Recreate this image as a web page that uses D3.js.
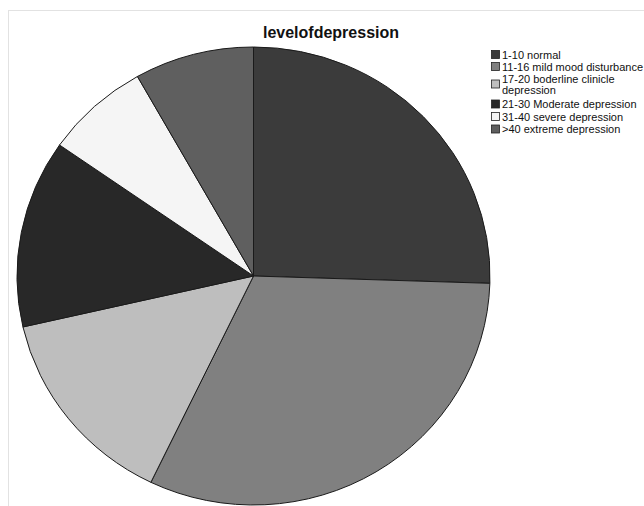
<!DOCTYPE html>
<html>
<head>
<meta charset="utf-8">
<script src="https://cdn.jsdelivr.net/npm/d3@7"></script>
<style>
  html, body { margin: 0; padding: 0; background: #ffffff; }
  svg { display: block; font-family: "Liberation Sans", Arial, sans-serif; }
</style>
</head>
<body>
<svg id="chart" width="644" height="506"></svg>
<script>
// Depression score groups (counts per category)
const categories = [
  "1-10 normal",
  "11-16 mild mood disturbance",
  "17-20 boderline clinicle depression",
  "21-30 Moderate depression",
  "31-40 severe depression",
  ">40 extreme depression"
];
const counts = [25, 31, 14, 13, 7, 8];
const legendLines = [
  ["1-10 normal"],
  ["11-16 mild mood disturbance"],
  ["17-20 boderline clinicle", "depression"],
  ["21-30 Moderate depression"],
  ["31-40 severe depression"],
  [">40 extreme depression"]
];
const fills = ["#3b3b3b", "#808080", "#bebebe", "#282828", "#f5f5f5", "#5f5f5f"];
const chartTitle = "levelofdepression";

const svg = d3.select("#chart");

// faint outer frame
svg.append("rect")
  .attr("x", 8.5).attr("y", 10.5)
  .attr("width", 700).attr("height", 600)
  .attr("fill", "none")
  .attr("stroke", "#e2e2e2")
  .attr("stroke-width", 1);

svg.append("text")
  .attr("x", 331).attr("y", 38)
  .attr("text-anchor", "middle")
  .attr("font-size", 16)
  .attr("font-weight", "bold")
  .attr("fill", "#111")
  .text(chartTitle);

const color = d3.scaleOrdinal().domain(categories).range(fills);

const pie = d3.pie()
  .sort(null)
  .value(d => d.value)
  .startAngle(0)
  .endAngle(2 * Math.PI);

const data = categories.map((c, i) => ({ name: c, value: counts[i] }));
const rx = 236.5, ry = 229;
const arc = d3.arc().innerRadius(0).outerRadius(rx);

// the pie is drawn slightly flattened vertically
const g = svg.append("g")
  .attr("transform", `translate(253.5,276) scale(1,${ry / rx})`);
g.selectAll("path")
  .data(pie(data))
  .join("path")
  .attr("d", arc)
  .attr("fill", d => color(d.data.name))
  .attr("stroke", "#1a1a1a")
  .attr("stroke-width", 1)
  .attr("vector-effect", "non-scaling-stroke")
  .attr("stroke-linejoin", "round");

// legend
const rowY = [54.5, 66.5, 84, 104, 116.5, 129];
const legend = svg.append("g").attr("transform", "translate(491,0)");
categories.forEach((c, i) => {
  const row = legend.append("g");
  row.append("rect")
    .attr("x", 0.5).attr("y", rowY[i] - 4)
    .attr("width", 8).attr("height", 8)
    .attr("fill", color(c))
    .attr("stroke", "#222")
    .attr("stroke-width", 0.8);
  const lines = legendLines[i];
  const lineGap = 11;
  const first = rowY[i] + 4 - (lines.length - 1) * lineGap / 2;
  lines.forEach((ln, j) => {
    row.append("text")
      .attr("x", 11).attr("y", first + j * lineGap)
      .attr("font-size", 11)
      .attr("fill", "#111")
      .text(ln);
  });
});
</script>
</body>
</html>
